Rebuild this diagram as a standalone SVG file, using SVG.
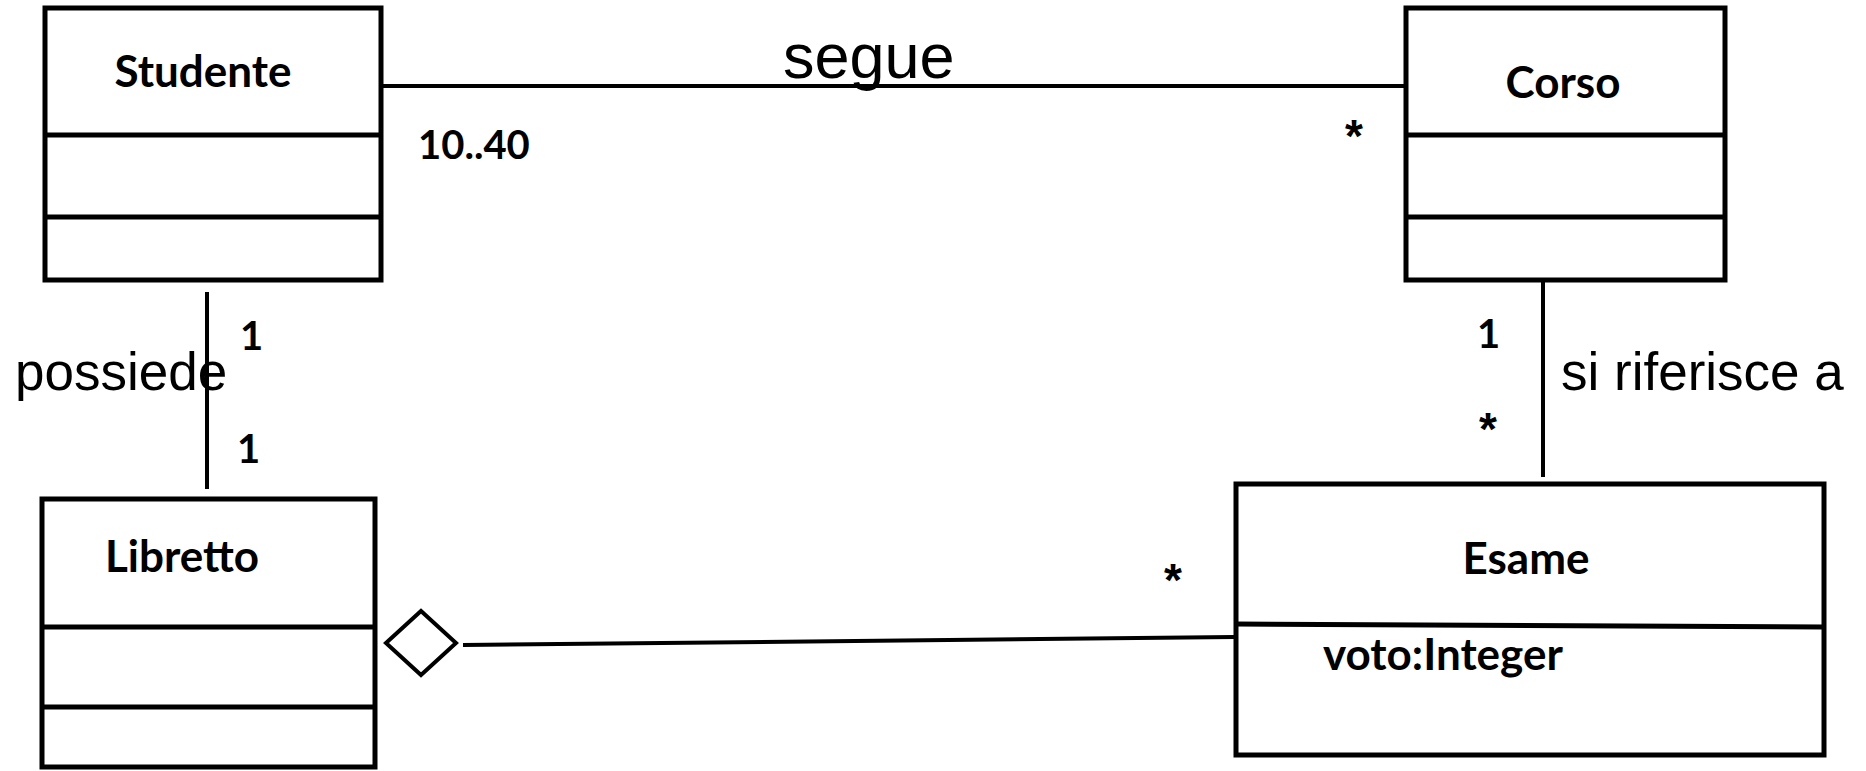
<svg xmlns="http://www.w3.org/2000/svg" width="1866" height="771" viewBox="0 0 1866 771">
<style>
.box{fill:#fff;stroke:#000;stroke-width:5}
.div{stroke:#000;stroke-width:5}
.ln{stroke:#000;stroke-width:4;fill:none}
.nm{font-family:Lato,"Open Sans",sans-serif;font-weight:bold;font-size:44px;fill:#000}
.mul{font-family:Lato,"Open Sans",sans-serif;font-weight:bold;font-size:40px;fill:#000}
.star{font-family:"Liberation Sans",Arial,sans-serif;font-weight:bold;font-size:46px;fill:#000}
.lbl{font-family:"Liberation Sans",Arial,sans-serif;font-size:53px;fill:#000}
</style>
<rect width="1866" height="771" fill="#fff"/>
<g id="connectors">
<line class="ln" x1="383" y1="86" x2="1404" y2="86"/>
<line class="ln" x1="207" y1="292" x2="207" y2="489"/>
<line class="ln" x1="1543" y1="282" x2="1543" y2="477"/>
<polygon class="ln" points="386,643 421,611 456,643 421,675"/>
<line class="ln" x1="463" y1="645" x2="1234" y2="637"/>
<text class="lbl" x="783" y="78" style="font-size:63px">segue</text>
<text class="mul" x="418" y="159">10..40</text>
<text class="star" x="1345" y="152">*</text>
<text class="lbl" x="15" y="390">possiede</text>
<text class="mul" x="240" y="350">1</text>
<text class="mul" x="237" y="463">1</text>
<text class="mul" x="1477" y="348">1</text>
<text class="star" x="1479" y="445">*</text>
<text class="lbl" x="1561" y="390">si riferisce a</text>
<text class="star" x="1164" y="596">*</text>
</g>
<g id="studente">
<rect class="box" x="45" y="8" width="336" height="272"/>
<line class="div" x1="45" y1="135" x2="381" y2="135"/>
<line class="div" x1="45" y1="217" x2="381" y2="217"/>
<text class="nm" x="203" y="87" text-anchor="middle">Studente</text>
</g>
<g id="corso">
<rect class="box" x="1406" y="8" width="319" height="272"/>
<line class="div" x1="1406" y1="135" x2="1725" y2="135"/>
<line class="div" x1="1406" y1="217" x2="1725" y2="217"/>
<text class="nm" x="1563" y="98" text-anchor="middle">Corso</text>
</g>
<g id="libretto">
<rect class="box" x="42" y="499" width="333" height="268"/>
<line class="div" x1="42" y1="627" x2="375" y2="627"/>
<line class="div" x1="42" y1="707" x2="375" y2="707"/>
<text class="nm" x="105" y="572">Libretto</text>
</g>
<g id="esame">
<rect class="box" x="1236" y="484" width="588" height="271"/>
<line class="div" x1="1236" y1="624" x2="1824" y2="627"/>
<text class="nm" x="1526" y="574" text-anchor="middle">Esame</text>
<text class="nm" x="1323" y="670">voto:Integer</text>
</g>
</svg>
